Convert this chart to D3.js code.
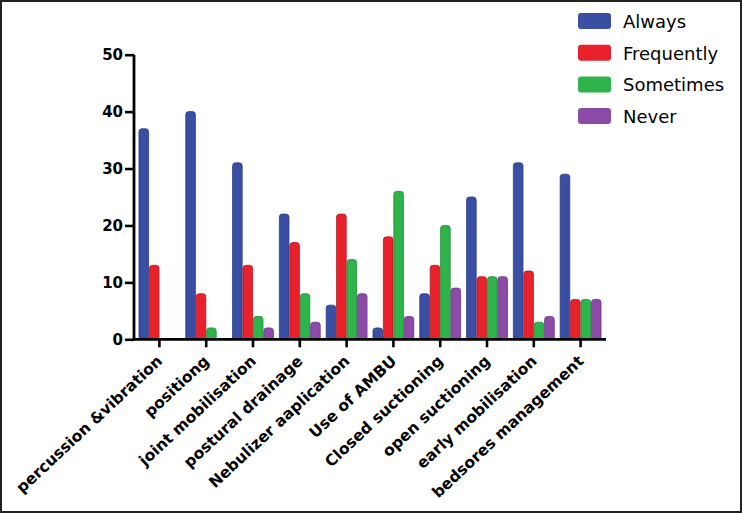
<!DOCTYPE html>
<html><head><meta charset="utf-8">
<script src="https://cdn.jsdelivr.net/npm/d3@7/dist/d3.min.js"></script>
<style>body{margin:0;background:#fff}svg{display:block}</style>
</head><body>
<svg id="c" width="742" height="513"></svg>
<script>
const categories = ["percussion &vibration","positiong","joint mobilisation","postural drainage","Nebulizer aaplication","Use of AMBU","Closed suctioning","open suctioning","early mobilisation","bedsores management"];
const seriesNames = ["Always","Frequently","Sometimes","Never"];
const always     = [37,40,31,22,6,2,8,25,31,29];
const frequently = [13,8,13,17,22,18,13,11,12,7];
const sometimes  = [0,2,4,8,14,26,20,11,3,7];
const never      = [0,0,2,3,8,4,9,11,4,7];
const yTicks = [0,10,20,30,40,50];
const colors = ["#3a4ea3","#e8212b","#2fb44b","#8b4ba7"];
const strokes = ["#2a3b85","#b8161e","#1f8a36","#6a3585"];

const seriesValues = [always, frequently, sometimes, never];
const FONT = "DejaVu Sans, Arial, sans-serif";
const svg = d3.select("#c");
svg.append("rect").attr("x",1).attr("y",1).attr("width",740).attr("height",511)
  .attr("fill","#fff").attr("stroke","#222").attr("stroke-width",2);

const y = d3.scaleLinear().domain([0,50]).range([339.3,54.7]);
const x = d3.scaleBand().domain(categories).range([136,604]).paddingInner(0.11).paddingOuter(0.055);
const xi = d3.scaleBand().domain(seriesNames).range([0,x.bandwidth()]);

const data = [];
categories.forEach((c,i)=>seriesNames.forEach((s,j)=>{
  if (seriesValues[j][i] > 0) data.push({c, s, j, v: seriesValues[j][i]});
}));

function barPath(x0, w, yTop, yBot, r){
  r = Math.min(r, w/2, (yBot-yTop));
  return `M${x0},${yBot}V${yTop+r}Q${x0},${yTop} ${x0+r},${yTop}H${x0+w-r}Q${x0+w},${yTop} ${x0+w},${yTop+r}V${yBot}Z`;
}
svg.append("g").selectAll("path").data(data).join("path")
  .attr("d", d => barPath(x(d.c)+xi(d.s)+0.4, xi.bandwidth()-0.8, y(d.v), y(0), 3))
  .attr("fill", d => colors[d.j]).attr("stroke", d => strokes[d.j]).attr("stroke-width",0.8);

// Y axis
const yAxis = svg.append("g").attr("transform","translate(134,0)")
  .call(d3.axisLeft(y).tickValues(yTicks).tickSize(9).tickPadding(2));
yAxis.select(".domain").attr("stroke","#000").attr("stroke-width",2.8).attr("d","M0,54.7V340.6");
yAxis.selectAll(".tick line").attr("stroke","#000").attr("stroke-width",2.6);
yAxis.selectAll(".tick text").attr("font-family",FONT)
  .attr("font-weight","bold").attr("font-size","15px").attr("fill","#000");

// X axis
const xAxis = svg.append("g").attr("transform","translate(0,339.3)")
  .call(d3.axisBottom(x).tickSize(8).tickFormat(""));
xAxis.select(".domain").attr("stroke","#000").attr("stroke-width",2.8).attr("d","M132.6,0H606");
xAxis.selectAll(".tick line").attr("stroke","#000").attr("stroke-width",2.6);
xAxis.selectAll(".tick").append("text")
  .attr("text-anchor","end")
  .attr("transform","translate(4,23) rotate(-43)")
  .attr("font-family",FONT)
  .attr("font-weight","bold").attr("font-size","15.5px").attr("fill","#000")
  .text(d => d);

// Legend
const lg = svg.append("g").selectAll("g").data(seriesNames).join("g")
  .attr("transform",(d,i)=>`translate(578,${13+i*31.7})`);
lg.append("rect").attr("width",33).attr("height",16).attr("rx",3)
  .attr("fill",(d,i)=>colors[i]);
lg.append("text").attr("x",45).attr("y",15).text(d=>d)
  .attr("font-family",FONT).attr("font-size","18px").attr("fill","#000");
</script>
</body></html>
